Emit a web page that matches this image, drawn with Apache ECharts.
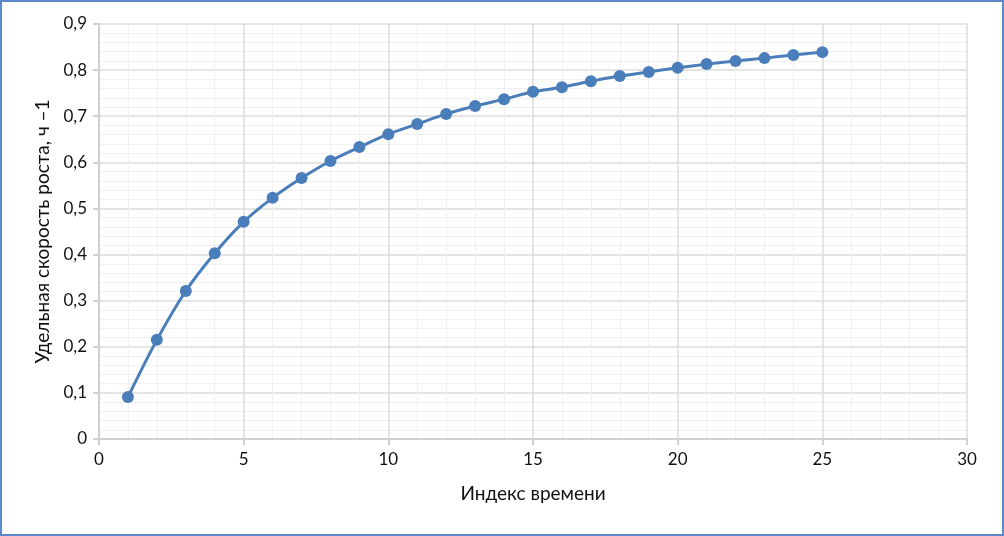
<!DOCTYPE html>
<html><head><meta charset="utf-8">
<script src="https://cdn.jsdelivr.net/npm/echarts@6/dist/echarts.min.js"></script>
<style>
html,body{margin:0;padding:0;background:#fff;}
#wrap{position:absolute;left:0;top:0;width:1000px;height:532px;border:2px solid #5b8ac6;background:#fff;}
#c{position:absolute;left:-2px;top:-2px;width:1004px;height:536px;}
</style></head>
<body><div id="wrap"><div id="c"></div></div>
<script>
const timeIndex = [1,2,3,4,5,6,7,8,9,10,11,12,13,14,15,16,17,18,19,20,21,22,23,24,25];
const growthRate = [0.091,0.215,0.321,0.403,0.471,0.523,0.566,0.603,0.633,0.661,0.683,0.705,0.722,0.737,0.753,0.763,0.776,0.787,0.796,0.805,0.813,0.820,0.826,0.833,0.839];
const xTitle = 'Индекс времени';
const yTitle = 'Удельная скорость роста, ч –1';

const chart = echarts.init(document.getElementById('c'));
const font = 'Lato, "Open Sans", "Liberation Sans", sans-serif';
chart.setOption({
  animation:false,
  grid:{left:99,right:37,top:24,bottom:97},
  xAxis:{type:'value',min:0,max:30,interval:5,
    name:xTitle,nameLocation:'middle',nameGap:45,
    nameTextStyle:{fontFamily:font,fontSize:19,color:'#111'},
    axisLine:{show:true,lineStyle:{color:'#d0d0d0',width:2}},
    axisTick:{show:true,length:6,lineStyle:{color:'#d0d0d0',width:2}},
    axisLabel:{fontFamily:font,fontSize:17,color:'#111',margin:12},
    splitLine:{show:true,lineStyle:{color:'#dcdcdc',width:1.5}},
    minorTick:{show:false,splitNumber:5},
    minorSplitLine:{show:true,lineStyle:{color:'#f0f0f0',width:1}}
  },
  yAxis:{type:'value',min:0,max:0.9,interval:0.1,
    name:yTitle,nameLocation:'middle',nameGap:47,nameRotate:90,
    nameTextStyle:{fontFamily:font,fontSize:19,color:'#111'},
    axisLine:{show:true,lineStyle:{color:'#d0d0d0',width:2}},
    axisTick:{show:true,length:6,lineStyle:{color:'#d0d0d0',width:2}},
    axisLabel:{fontFamily:font,fontSize:17,color:'#111',margin:12,
      formatter:v=>v===0?'0':v.toFixed(1).replace('.',',')},
    splitLine:{show:true,lineStyle:{color:'#dcdcdc',width:1.5}},
    minorTick:{show:false,splitNumber:5},
    minorSplitLine:{show:true,lineStyle:{color:'#f0f0f0',width:1}}
  },
  series:[{type:'line',smooth:0.3,
    data:timeIndex.map((x,i)=>[x,growthRate[i]]),
    symbol:'circle',symbolSize:12,
    lineStyle:{color:'#4a7ebb',width:3},
    itemStyle:{color:'#4a7ebb'}
  }]
});
</script></body></html>
